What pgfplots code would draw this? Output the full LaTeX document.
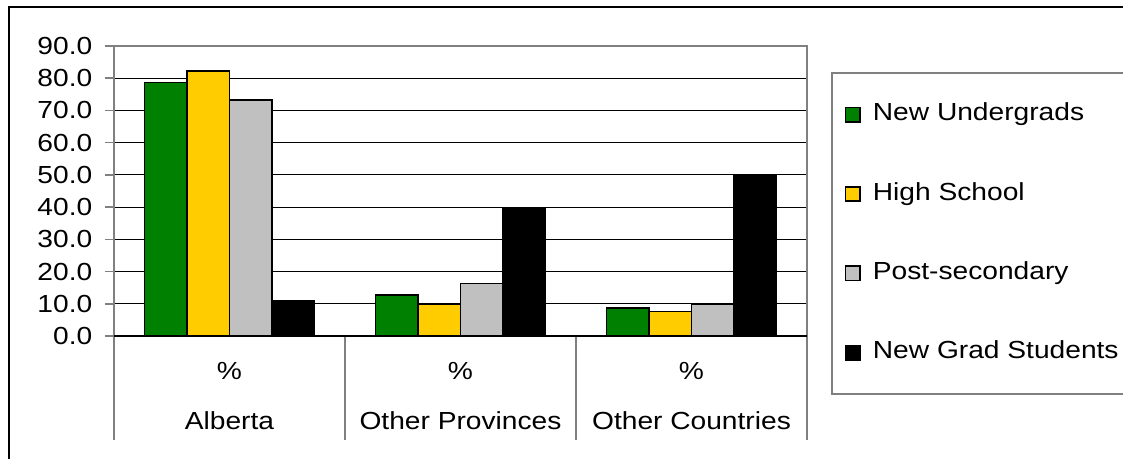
\documentclass[border=0pt]{standalone}
\usepackage{pgfplots}
\pgfplotsset{compat=1.18}
\usepackage{fontspec}
\setmainfont{Liberation Sans}[FakeStretch=1.14]
\definecolor{ugreen}{HTML}{008000}
\definecolor{hsyellow}{HTML}{FFCC00}
\definecolor{psgray}{HTML}{C0C0C0}
\definecolor{framegray}{HTML}{808080}

\begin{document}
\fontsize{12.35}{14.8}\selectfont
\begin{tikzpicture}[x=1pt,y=1pt]
\useasboundingbox (0,0) rectangle (561.5,229.5);
% outer frame of the chart area
\draw[line width=1pt] (4.25,-2) -- (4.25,226) -- (570,226);
% frame around the legend
\draw[framegray, line width=0.75pt] (416,32.5) rectangle (575,193);
\begin{axis}[
  at={(57pt,61.5pt)}, anchor=south west,
  scale only axis, width=346.5pt, height=145pt,
  clip=false,
  ybar=0pt, bar width=21.3pt,
  xmin=-0.5, xmax=2.5, ymin=0, ymax=90,
  xtick={0,1,2}, xticklabels={\%,\%,\%},
  xtick style={draw=none},
  xticklabel style={anchor=base, inner sep=0pt, yshift=-17.5pt},
  extra x ticks={0,1,2},
  extra x tick labels={Alberta,Other Provinces,Other Countries},
  extra x tick style={grid=none, xtick style={draw=none},
    xticklabel style={yshift=-25pt}},
  ytick={0,10,...,90},
  ymajorgrids, major grid style={black, line width=0.5pt},
  tick align=outside, major tick length=4.5pt, tick pos=left,
  ytick style={framegray, line width=0.75pt},
  yticklabel style={inner sep=0pt, xshift=-6.15pt,
    /pgf/number format/.cd, fixed, fixed zerofill, precision=1},
  /pgf/number format/assume math mode=true,
  axis line style={framegray, line width=0.75pt},
  legend style={at={(1.0548,0.8048)}, anchor=north west,
    draw=none, fill=none, inner sep=0pt, outer sep=0pt,
    row sep=27.7pt, column sep=6pt,
    nodes={inner sep=0pt, text height=9pt, text depth=3pt}},
  legend cell align=left,
  legend image code/.code={\draw[#1, line width=0.75pt] (0pt,-3.6pt) rectangle (7.2pt,3.6pt);},
]
\addplot[fill=ugreen, draw=black, line width=0.75pt] coordinates {(0,78.6) (1,12.7) (2,8.7)};
\addplot[fill=hsyellow, draw=black, line width=0.75pt] coordinates {(0,82.2) (1,9.8) (2,7.6)};
\addplot[fill=psgray, draw=black, line width=0.75pt] coordinates {(0,73.3) (1,16.3) (2,10.0)};
\addplot[fill=black, draw=black, line width=0.75pt] coordinates {(0,11.0) (1,39.9) (2,49.6)};
\legend{New Undergrads, High School, Post-secondary, New Grad Students}
% category separators below the axis
\draw[framegray, line width=0.75pt] (axis cs:-0.5,0) -- ++(0pt,-52pt);
\draw[framegray, line width=0.75pt] (axis cs:0.5,0) -- ++(0pt,-52pt);
\draw[framegray, line width=0.75pt] (axis cs:1.5,0) -- ++(0pt,-52pt);
\draw[framegray, line width=0.75pt] (axis cs:2.5,0) -- ++(0pt,-52pt);
\draw[black, line width=0.75pt] (axis cs:-0.5,0) -- (axis cs:2.5,0);
\end{axis}
\end{tikzpicture}
\end{document}
